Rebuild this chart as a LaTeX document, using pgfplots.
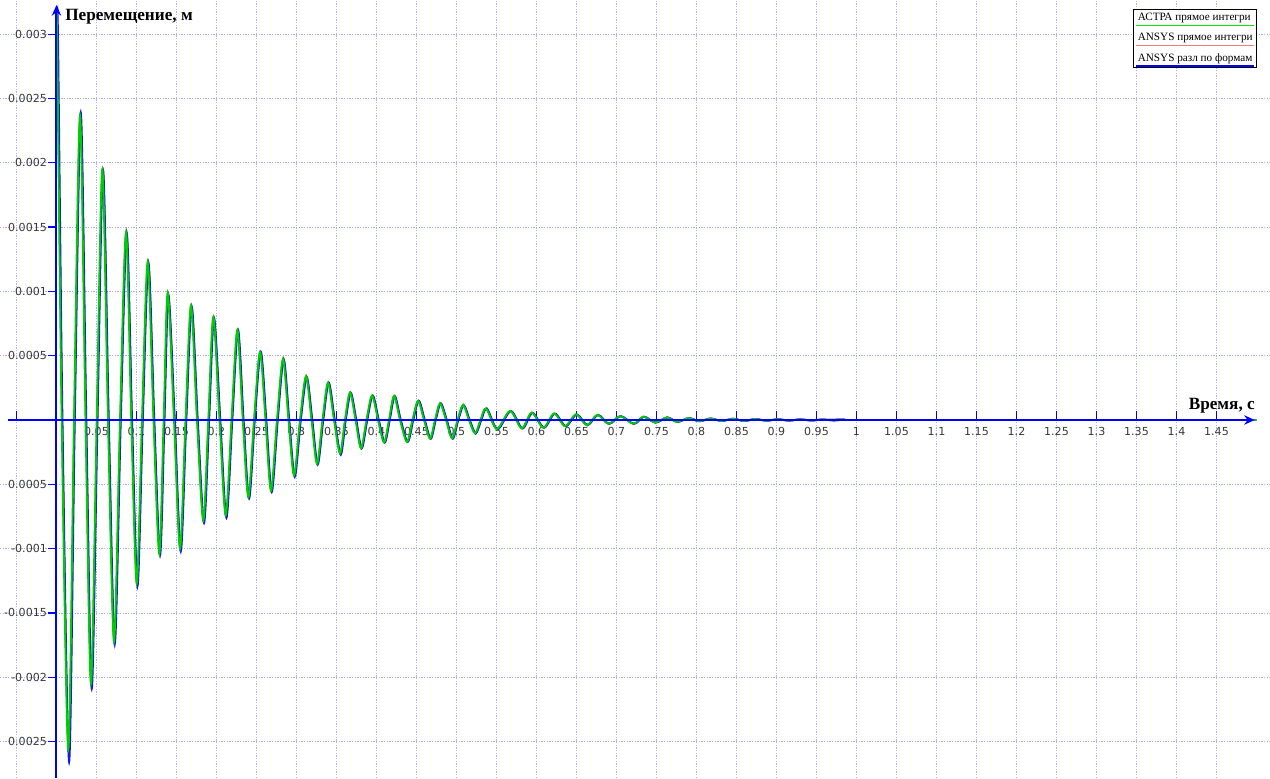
\documentclass[border=0pt]{standalone}
\usepackage{fontspec}
\setmainfont{Liberation Serif}
\newfontfamily\tickfont{DejaVu Sans}
\usepackage{pgfplots}
\usepackage{pgfplotstable}
\pgfplotsset{compat=1.18}
\usetikzlibrary{arrows.meta}

\definecolor{astragreen}{RGB}{0,205,0}
\definecolor{legendgreen}{RGB}{0,235,0}
\definecolor{legendred}{RGB}{255,120,120}
\definecolor{ansysred}{RGB}{255,40,40}
\definecolor{ansysblue}{RGB}{20,20,235}
\definecolor{axisblue}{RGB}{0,0,255}
\definecolor{gridcol}{RGB}{175,175,245}
\definecolor{labcol}{RGB}{55,55,55}

\pgfplotstableread{
t v
0.0000 0.00316
0.0010 0.00285
0.0065 0.0
0.0148 -0.00256
0.0219 0.0
0.0294 0.00237
0.0363 0.0
0.0431 -0.00205
0.0503 0.0
0.0573 0.00195
0.0644 0.0
0.0719 -0.00172
0.0794 0.0
0.0869 0.00146
0.0935 0.0
0.1003 -0.00127
0.1069 0.0
0.1140 0.00123
0.1213 0.0
0.1285 -0.00104
0.1340 0.0
0.1390 0.00099
0.1469 0.0
0.1544 -0.00100
0.1613 0.0
0.1681 0.00089
0.1756 0.0
0.1835 -0.00078
0.1898 0.0
0.1960 0.00080
0.2038 0.0
0.2115 -0.00074
0.2188 0.0
0.2260 0.00070
0.2329 0.0
0.2398 -0.00060
0.2469 0.0
0.2544 0.00053
0.2613 0.0
0.2681 -0.00055
0.2756 0.0
0.2831 0.000475
0.2900 0.0
0.2969 -0.00043
0.3044 0.0
0.3119 0.00034
0.3188 0.0
0.3256 -0.00034
0.3325 0.0
0.3394 0.00029
0.3469 0.0
0.3544 -0.00026
0.3606 0.0
0.3669 0.000215
0.3738 0.0
0.3806 -0.00022
0.3875 0.0
0.3944 0.00019
0.4019 0.0
0.4094 -0.000174
0.4156 0.0
0.4219 0.000187
0.4294 0.0
0.4381 -0.00017
0.4450 0.0
0.4519 0.000148
0.4594 0.0
0.4669 -0.000145
0.4731 0.0
0.4794 0.00013
0.4869 0.0
0.4944 -0.000143
0.5013 0.0
0.5081 0.000117
0.5156 0.0
0.5231 -0.000104
0.5300 0.0
0.5369 0.00009
0.5503 -0.00007
0.5669 0.00007
0.5815 -0.000065
0.5940 0.000057
0.6085 -0.00006
0.6219 0.00005
0.6356 -0.000047
0.6494 0.000044
0.6628 -0.00004
0.6760 0.00004
0.6898 -0.00003
0.7044 0.00003
0.7210 -0.00003
0.7335 0.000026
0.7481 -0.00002
0.7628 0.00002
0.7753 -0.000015
0.7898 0.000015
0.8030 -0.00001
0.8170 0.000012
0.8310 -0.000008
0.8450 0.00001
0.8590 -0.000008
0.8730 0.000008
0.8870 -0.000006
0.9010 0.000006
0.9150 -0.000005
0.9290 0.000005
0.9430 -0.000004
0.9570 0.000004
0.9710 -0.000003
0.9850 0.000003
1.0000 0.0
1.5000 0.0
}\astra

\pgfplotstableread{
t v
0.0005 0.00316
0.0015 0.00285
0.0070 0.0
0.0153 -0.00258
0.0224 0.0
0.0299 0.00237
0.0368 0.0
0.0436 -0.00206
0.0508 0.0
0.0578 0.00195
0.0649 0.0
0.0724 -0.00173
0.0799 0.0
0.0874 0.00146
0.0940 0.0
0.1008 -0.00128
0.1074 0.0
0.1145 0.00123
0.1218 0.0
0.1290 -0.00104
0.1345 0.0
0.1395 0.00098
0.1474 0.0
0.1549 -0.00101
0.1618 0.0
0.1686 0.00089
0.1761 0.0
0.1840 -0.00079
0.1903 0.0
0.1965 0.00080
0.2043 0.0
0.2120 -0.00075
0.2193 0.0
0.2265 0.00070
0.2334 0.0
0.2403 -0.00060
0.2474 0.0
0.2549 0.00053
0.2618 0.0
0.2686 -0.00055
0.2761 0.0
0.2836 0.000475
0.2905 0.0
0.2974 -0.00043
0.3049 0.0
0.3124 0.00034
0.3193 0.0
0.3261 -0.00034
0.3330 0.0
0.3399 0.00029
0.3474 0.0
0.3549 -0.00026
0.3611 0.0
0.3674 0.000215
0.3743 0.0
0.3811 -0.00022
0.3880 0.0
0.3949 0.00019
0.4024 0.0
0.4099 -0.000174
0.4161 0.0
0.4224 0.000187
0.4299 0.0
0.4386 -0.00017
0.4455 0.0
0.4524 0.000148
0.4599 0.0
0.4674 -0.000145
0.4736 0.0
0.4799 0.00013
0.4874 0.0
0.4949 -0.000143
0.5018 0.0
0.5086 0.000117
0.5161 0.0
0.5236 -0.000104
0.5305 0.0
0.5374 0.00009
0.5508 -0.00007
0.5674 0.00007
0.5820 -0.000065
0.5945 0.000057
0.6090 -0.00006
0.6224 0.00005
0.6361 -0.000047
0.6499 0.000044
0.6633 -0.00004
0.6765 0.00004
0.6903 -0.00003
0.7049 0.00003
0.7215 -0.00003
0.7340 0.000026
0.7486 -0.00002
0.7633 0.00002
0.7758 -0.000015
0.7903 0.000015
0.8035 -0.00001
0.8175 0.000012
0.8315 -0.000008
0.8455 0.00001
0.8595 -0.000008
0.8735 0.000008
0.8875 -0.000006
0.9015 0.000006
0.9155 -0.000005
0.9295 0.000005
0.9435 -0.000004
0.9575 0.000004
0.9715 -0.000003
0.9855 0.000003
1.0005 0.0
1.5000 0.0
}\ansysdirect

\pgfplotstableread{
t v
0.0010 0.00318
0.0022 0.00285
0.0075 0.0
0.0158 -0.00266
0.0229 0.0
0.0304 0.00239
0.0373 0.0
0.0441 -0.00209
0.0513 0.0
0.0583 0.00194
0.0654 0.0
0.0729 -0.00174
0.0804 0.0
0.0879 0.00145
0.0945 0.0
0.1013 -0.00129
0.1079 0.0
0.1150 0.00122
0.1223 0.0
0.1295 -0.00105
0.1350 0.0
0.1400 0.00097
0.1479 0.0
0.1554 -0.00102
0.1623 0.0
0.1691 0.00088
0.1766 0.0
0.1845 -0.00080
0.1908 0.0
0.1970 0.00079
0.2048 0.0
0.2125 -0.00076
0.2198 0.0
0.2270 0.00070
0.2339 0.0
0.2408 -0.00061
0.2479 0.0
0.2554 0.00053
0.2623 0.0
0.2691 -0.00056
0.2766 0.0
0.2841 0.00047
0.2910 0.0
0.2979 -0.00044
0.3054 0.0
0.3129 0.00033
0.3198 0.0
0.3266 -0.000345
0.3335 0.0
0.3404 0.00029
0.3479 0.0
0.3554 -0.00027
0.3616 0.0
0.3679 0.00021
0.3748 0.0
0.3816 -0.00022
0.3885 0.0
0.3954 0.00019
0.4029 0.0
0.4104 -0.000175
0.4166 0.0
0.4229 0.000185
0.4304 0.0
0.4391 -0.00017
0.4460 0.0
0.4529 0.00015
0.4604 0.0
0.4679 -0.000145
0.4741 0.0
0.4804 0.00013
0.4879 0.0
0.4954 -0.000145
0.5023 0.0
0.5091 0.000115
0.5166 0.0
0.5241 -0.000105
0.5310 0.0
0.5379 0.00009
0.5513 -0.000072
0.5679 0.00007
0.5825 -0.000066
0.5950 0.000055
0.6095 -0.00006
0.6229 0.00005
0.6366 -0.000048
0.6504 0.000043
0.6638 -0.00004
0.6770 0.00004
0.6908 -0.00003
0.7054 0.00003
0.7220 -0.00003
0.7345 0.000025
0.7491 -0.00002
0.7638 0.00002
0.7763 -0.000015
0.7908 0.000014
0.8040 -0.00001
0.8180 0.000011
0.8320 -0.000008
0.8460 0.00001
0.8600 -0.000008
0.8740 0.000007
0.8880 -0.000006
0.9020 0.000006
0.9160 -0.000005
0.9300 0.000005
0.9440 -0.000004
0.9580 0.000004
0.9720 -0.000003
0.9860 0.000003
1.0010 0.0
1.5000 0.0
}\ansysmodal

\begin{document}
\begin{tikzpicture}
\begin{axis}[
  scale only axis,
  width=952.5pt, height=583.5pt,
  xmin=-0.0706, xmax=1.5169,
  ymin=-0.0027838, ymax=0.0032659,
  axis lines=middle,
  axis line style={draw=none},
  xtick={-0.05,0.05,0.1,0.15,0.2,0.25,0.3,0.35,0.4,0.45,0.5,0.55,0.6,0.65,0.7,0.75,0.8,0.85,0.9,0.95,1,1.05,1.1,1.15,1.2,1.25,1.3,1.35,1.4,1.45},
  xticklabels={,0.05,0.1,0.15,0.2,0.25,0.3,0.35,0.4,0.45,0.5,0.55,0.6,0.65,0.7,0.75,0.8,0.85,0.9,0.95,1,1.05,1.1,1.15,1.2,1.25,1.3,1.35,1.4,1.45},
  ytick={-0.0025,-0.002,-0.0015,-0.001,-0.0005,0.0005,0.001,0.0015,0.002,0.0025,0.003},
  yticklabels={0.0025,-0.002,-0.0015,-0.001,0.0005,0.0005,0.001,0.0015,0.002,0.0025,0.003},
  scaled y ticks=false,
  xtick align=inside,
  ytick align=outside,
  major tick length=6.5pt,
  every tick/.style={axisblue, line width=1pt},
  grid=major,
  major grid style={gridcol, line width=0.6pt, dash pattern=on 1pt off 1pt},
  ticklabel style={font=\tickfont\fontsize{8.3}{9.5}\selectfont, text=labcol},
  xticklabel style={anchor=north, inner sep=0pt, yshift=-5.5pt},
  yticklabel style={anchor=east, inner sep=0pt, xshift=-0.5pt},
  xlabel={Время, с},
  ylabel={Перемещение, м},
  every axis x label/.style={at={(axis description cs:0.98819,0.47301)}, anchor=base east, inner sep=0pt, font=\bfseries\fontsize{12.9}{15}\selectfont},
  every axis y label/.style={at={(axis description cs:0.05118,0.97301)}, anchor=base west, inner sep=0pt, font=\bfseries\fontsize{12.9}{15}\selectfont},
  legend style={at={(axis description cs:0.9898,0.9884)}, anchor=north east,
    draw=black, line width=0.6pt, fill=white, font=\fontsize{8.4}{10}\selectfont,
    inner sep=2pt, row sep=6pt, nodes={inner sep=1pt}},
  legend cell align=left,
  legend image code/.code={\draw[#1, line width=1.2pt, overlay] (0pt,-5.5pt) -- (88pt,-5.5pt);},
  clip=true,
]
\addplot[ansysred, line width=1.4pt, smooth, forget plot] table[x=t, y=v] {\ansysdirect};
\addplot[ansysblue, line width=1.4pt, smooth, forget plot] table[x=t, y=v] {\ansysmodal};
\addplot[astragreen, line width=1.4pt, smooth, forget plot] table[x=t, y=v] {\astra};
\addlegendimage{legendgreen}
\addlegendentry{АСТРА прямое интегри}
\addlegendimage{legendred}
\addlegendentry{ANSYS прямое интегри}
\addlegendimage{axisblue}
\addlegendentry{ANSYS разл по формам}
\draw[axisblue, line width=1.5pt, -{Stealth[length=8pt,width=7pt]}] (axis cs:-0.0606,0) -- (axis cs:1.498,0);
\draw[axisblue, line width=1.5pt, -{Stealth[length=8pt,width=7pt]}] (axis cs:0,-0.0027838) -- (axis cs:0,0.003227);
\coordinate (bl) at (rel axis cs:0,0);
\coordinate (tr) at (rel axis cs:1,1);
\end{axis}
\pgfresetboundingbox
\useasboundingbox (bl) rectangle (tr);
\end{tikzpicture}
\end{document}
